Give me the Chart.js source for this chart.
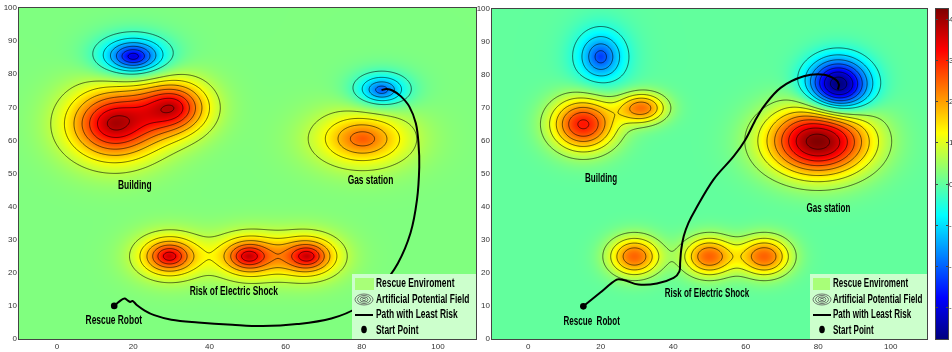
<!DOCTYPE html>
<html><head><meta charset="utf-8">
<script src="https://cdn.jsdelivr.net/npm/chart.js@4/dist/chart.umd.min.js"></script>
<style>
html,body{margin:0;padding:0;background:#fff;overflow:hidden;width:952px;height:352px}
#c1{position:absolute;left:0;top:0}
#c2{position:absolute;left:477px;top:0}
</style>
</head><body>
<canvas id="c1" width="480" height="352"></canvas>
<canvas id="c2" width="475" height="352"></canvas>
<script>
// ---------- DATA ----------
const xTickVals = [0, 20, 40, 60, 80, 100];
const yTickVals = [0, 10, 20, 30, 40, 50, 60, 70, 80, 90, 100];
const cbTickVals = [-3, -2, -1, 0, 1, 2, 3, 4];
const contourLevels = [-4, -3.5, -3, -2.5, -2, -1.5, -1, -0.5, 0.5, 1, 1.5, 2, 2.5, 3, 3.5, 4];
const legendLabels = ['Rescue Enviroment', 'Artificial Potential Field', 'Path with Least Risk', 'Start Point'];

// Left panel: risk sources (centre, peak value, spread, profile exponent)
const leftSrcX  = [20, 15, 30.5, 85.2, 80.2, 29.5, 50.3, 65.7];
const leftSrcY  = [85.3, 65, 70, 75.2, 60.5, 25, 25, 25];
const leftSrcA  = [-3.4, 3.55, 3.0, -2.4, 2.3, 3.35, 3.35, 3.35];
const leftSrcSx = [4.6, 7.8, 6.0, 3.8, 7.1, 4.3, 4.3, 4.3];
const leftSrcSy = [3.1, 7.0, 5.3, 2.7, 4.8, 3.27, 3.27, 3.27];
const leftSrcP  = [1.5, 1.8, 1.8, 1.5, 1.6, 1.5, 1.5, 1.5];
const leftClim = [-4, 4];
const leftPathX = [15.0, 16.3, 17.7, 18.6, 19.2, 19.8, 21.0, 23.0, 25.5, 30.0, 37.0, 46.0, 54.0, 63.0, 72.0, 79.0, 85.0, 89.5, 92.8, 94.5, 95.1, 94.9, 94.2, 92.5, 90.3, 88.2, 86.5, 85.2];
const leftPathY = [10.0, 11.3, 12.2, 11.6, 11.2, 11.5, 10.2, 8.6, 7.2, 5.8, 5.0, 4.3, 3.9, 4.5, 6.2, 9.6, 15.8, 22.9, 32.0, 42.0, 52.0, 59.2, 65.2, 70.2, 73.3, 75.0, 75.5, 75.2];
const leftStart = [15.0, 10.0];
const leftLabelText = ['Building', 'Gas station', 'Risk of Electric Shock', 'Rescue Robot'];
const leftLabelX = [20.4, 82.3, 46.4, 14.9];
const leftLabelY = [46.4, 47.8, 14.4, 5.6];

// Right panel
const rightSrcX  = [20, 15.2, 31.3, 85.5, 80, 29.3, 49.9, 65.2];
const rightSrcY  = [85.5, 65.1, 70, 76.8, 60, 25, 25, 25];
const rightSrcA  = [-2.3, 3.1, 2.3, -4.0, 4.25, 2.45, 2.45, 2.45];
const rightSrcSx = [3.7, 6.2, 4.6, 5.9, 9.8, 4.9, 4.9, 4.9];
const rightSrcSy = [4.37, 5.6, 3.2, 5.6, 7.25, 4.1, 4.1, 4.1];
const rightSrcP  = [1.5, 2, 2, 2, 2, 2, 2, 2];
const rightClim = [-3.77, 4.24];
const rightPathX = [15.2, 19.8, 24.4, 26.3, 30.4, 35.5, 40.1, 41.7, 41.9, 42.2, 42.9, 44.2, 46.1, 51.1, 56.7, 59.9, 62.5, 65.0, 69.6, 76.0, 81.6, 84.8, 85.7, 85.4];
const rightPathY = [9.9, 14.0, 18.0, 17.9, 16.5, 16.8, 18.5, 20.5, 23.1, 27.1, 31.2, 35.2, 39.2, 48.3, 55.4, 60.4, 66.0, 70.5, 76.1, 79.6, 80.1, 78.6, 77.1, 75.6];
const rightStart = [15.2, 9.9];
const rightLabelText = ['Building', 'Gas station', 'Risk of Electric Shock', 'Rescue  Robot'];
const rightLabelX = [20.1, 82.8, 49.3, 17.5];
const rightLabelY = [48.6, 39.5, 13.8, 5.1];

// ---------- HELPERS ----------
const TICK_FONT = "'Liberation Sans Narrow', 'Liberation Sans', Arial, sans-serif";
const clamp01 = v => Math.max(0, Math.min(1, v));
function jet(t) {
  t = clamp01(t);
  return [clamp01(Math.min(4*t-1.5, -4*t+4.5)), clamp01(Math.min(4*t-0.5, -4*t+3.5)), clamp01(Math.min(4*t+0.5, -4*t+2.5))];
}
function makeField(sx, sy, a, wx, wy, p) {
  return (x, y) => {
    let s = 0;
    for (let k = 0; k < sx.length; k++) {
      const dx = (x - sx[k]) / wx[k], dy = (y - sy[k]) / wy[k];
      s += a[k] * Math.exp(-0.5 * Math.pow(dx*dx + dy*dy, p[k] / 2));
    }
    return s;
  };
}
function drawText(ctx, txt, x, y, size, squeeze, align) {
  ctx.save();
  ctx.font = 'bold ' + size + "px 'Liberation Sans', Arial, sans-serif";
  ctx.textAlign = align || 'center';
  ctx.textBaseline = 'middle';
  ctx.fillStyle = '#000';
  ctx.translate(x, y);
  ctx.scale(squeeze, 1);
  ctx.fillText(txt, 0, 0);
  ctx.restore();
}

function fieldPlugin(cfg) {
  return {
    id: 'field',
    beforeDatasetsDraw(chart) {
      const {ctx, chartArea: a, scales: {x, y}} = chart;
      const L = Math.round(a.left), T = Math.round(a.top);
      const W = Math.round(a.right) - L, H = Math.round(a.bottom) - T;
      const img = ctx.createImageData(W, H);
      const xs = [], ys = [];
      for (let i = 0; i < W; i++) xs.push(x.getValueForPixel(L + i + 0.5));
      for (let j = 0; j < H; j++) ys.push(y.getValueForPixel(T + j + 0.5));
      const [c0, c1] = cfg.clim;
      for (let j = 0; j < H; j++) {
        for (let i = 0; i < W; i++) {
          const v = cfg.f(xs[i], ys[j]);
          const c = jet((v - c0) / (c1 - c0));
          const p = (j * W + i) * 4;
          img.data[p] = Math.round(c[0]*255); img.data[p+1] = Math.round(c[1]*255);
          img.data[p+2] = Math.round(c[2]*255); img.data[p+3] = 255;
        }
      }
      ctx.putImageData(img, L, T);
      // contours (marching squares in data space)
      const step = 0.25, gx0 = x.min, gy0 = y.min;
      const nx = Math.round((x.max - x.min) / step) + 1, ny = Math.round((y.max - y.min) / step) + 1;
      const g = new Float64Array(nx * ny);
      for (let j = 0; j < ny; j++) for (let i = 0; i < nx; i++) g[j*nx+i] = cfg.f(gx0 + i*step, gy0 + j*step);
      ctx.save();
      ctx.beginPath();
      ctx.rect(a.left, a.top, a.right - a.left, a.bottom - a.top);
      ctx.clip();
      ctx.beginPath();
      const P = (gi, gj) => [x.getPixelForValue(gx0 + gi*step), y.getPixelForValue(gy0 + gj*step)];
      for (const lev of contourLevels) {
        for (let j = 0; j < ny - 1; j++) {
          for (let i = 0; i < nx - 1; i++) {
            const va = g[j*nx+i] - lev, vb = g[j*nx+i+1] - lev, vc = g[(j+1)*nx+i+1] - lev, vd = g[(j+1)*nx+i] - lev;
            const sa = va > 0, sb = vb > 0, sc = vc > 0, sd = vd > 0;
            if (sa === sb && sb === sc && sc === sd) continue;
            const pts = [];
            if (sa !== sb) pts.push(P(i + va/(va-vb), j));
            if (sb !== sc) pts.push(P(i + 1, j + vb/(vb-vc)));
            if (sc !== sd) pts.push(P(i + 1 - vc/(vc-vd), j + 1));
            if (sd !== sa) pts.push(P(i, j + 1 - vd/(vd-va)));
            for (let k = 0; k + 1 < pts.length; k += 2) {
              ctx.moveTo(pts[k][0], pts[k][1]);
              ctx.lineTo(pts[k+1][0], pts[k+1][1]);
            }
          }
        }
      }
      ctx.strokeStyle = 'rgba(0,0,0,0.85)';
      ctx.lineWidth = 0.7;
      ctx.stroke();
      ctx.restore();
      // frame
      ctx.save();
      ctx.strokeStyle = '#444';
      ctx.lineWidth = 1;
      ctx.strokeRect(a.left - 0.5, a.top - 0.5, a.right - a.left + 1, a.bottom - a.top + 1);
      ctx.restore();
    },
    afterDatasetsDraw(chart) {
      const {ctx, scales: {x, y}} = chart;
      cfg.labelText.forEach((t, k) => {
        drawText(ctx, t, x.getPixelForValue(cfg.labelX[k]), y.getPixelForValue(cfg.labelY[k]), 12, cfg.squeeze);
      });
    },
    afterDraw(chart) {
      const {ctx, chartArea: a} = chart;
      const bw = cfg.legendW, bh = 65;
      const bx = a.right - bw, by = a.bottom - bh;
      ctx.save();
      ctx.fillStyle = '#ccffcc';
      ctx.fillRect(bx, by, bw, bh);
      const rows = [10, 25.5, 41, 56.5];
      const ix = bx + 12;
      ctx.fillStyle = '#a8ff78';
      ctx.fillRect(bx + 3, by + rows[0] - 6, cfg.swW, 12);
      ctx.strokeStyle = '#555';
      ctx.lineWidth = 0.8;
      [[9, 5.5], [6.5, 4], [4, 2.5], [1.8, 1.1]].forEach(([rx, ry]) => {
        ctx.beginPath(); ctx.ellipse(ix, by + rows[1], rx, ry, 0, 0, Math.PI*2); ctx.stroke();
      });
      ctx.strokeStyle = '#000'; ctx.lineWidth = 2;
      ctx.beginPath(); ctx.moveTo(bx + 3, by + rows[2]); ctx.lineTo(bx + 21, by + rows[2]); ctx.stroke();
      ctx.fillStyle = '#000';
      ctx.beginPath(); ctx.ellipse(ix, by + rows[3] - 1, 2.8, 3.8, 0, 0, Math.PI*2); ctx.fill();
      ctx.restore();
      legendLabels.forEach((t, k) => drawText(ctx, t, bx + cfg.textOff, by + rows[k], 12, cfg.squeeze, 'left'));
      if (cfg.colorbar) {
        const cb = chart.scales.cb;
        const x0 = a.right + 9, w = 12;
        const top = Math.round(cb.top), bot = Math.round(cb.bottom);
        for (let py = top; py < bot; py++) {
          const v = cb.getValueForPixel(py + 0.5);
          const c = jet((v - cfg.clim[0]) / (cfg.clim[1] - cfg.clim[0]));
          ctx.fillStyle = 'rgb(' + Math.round(c[0]*255) + ',' + Math.round(c[1]*255) + ',' + Math.round(c[2]*255) + ')';
          ctx.fillRect(x0, py, w, 1);
        }
        ctx.save();
        ctx.strokeStyle = '#444'; ctx.lineWidth = 1;
        ctx.strokeRect(x0 - 0.5, top - 0.5, w + 1, bot - top + 1);
        ctx.font = "8px " + TICK_FONT;
        ctx.fillStyle = '#333';
        ctx.textBaseline = 'middle';
        ctx.textAlign = 'left';
        cbTickVals.forEach(v => {
          const py = Math.round(cb.getPixelForValue(v)) + 0.5;
          ctx.beginPath();
          ctx.moveTo(x0, py); ctx.lineTo(x0 + 2, py);
          ctx.moveTo(x0 + w - 2, py); ctx.lineTo(x0 + w, py);
          ctx.stroke();
          ctx.fillText(String(v), x0 + w + 1, py);
        });
        ctx.restore();
      }
    }
  };
}

function makeChart(id, cfg) {
  return new Chart(document.getElementById(id), {
    type: 'scatter',
    data: {
      datasets: [
        {data: cfg.pathX.map((v, i) => ({x: v, y: cfg.pathY[i]})), showLine: true, borderColor: '#000',
         borderWidth: 2, pointRadius: 0, tension: 0.35, fill: false},
        {data: [{x: cfg.start[0], y: cfg.start[1]}], showLine: false, pointRadius: 3.3,
         pointBackgroundColor: '#000', pointBorderColor: '#000', pointBorderWidth: 0}
      ]
    },
    options: {
      responsive: false, animation: false, devicePixelRatio: 1, events: [],
      layout: {padding: cfg.padding},
      plugins: {legend: {display: false}, tooltip: {enabled: false}},
      scales: {
        x: {type: 'linear', min: -10, max: 110,
            afterBuildTicks: s => { s.ticks = xTickVals.map(v => ({value: v})); },
            afterFit: s => { s.height = cfg.xh; },
            grid: {display: false, drawTicks: false}, border: {display: false},
            ticks: {padding: 3, color: '#333', font: {family: TICK_FONT, size: 8}, maxRotation: 0, autoSkip: false}},
        y: {type: 'linear', min: 0, max: 100,
            afterBuildTicks: s => { s.ticks = yTickVals.map(v => ({value: v})); },
            afterFit: s => { s.width = cfg.yw; },
            grid: {display: false, drawTicks: false}, border: {display: false},
            ticks: {padding: 2, color: '#333', font: {family: TICK_FONT, size: 8}, autoSkip: false}},
        cb: {type: 'linear', display: false, position: 'right', min: cfg.clim[0], max: cfg.clim[1]}
      }
    },
    plugins: [fieldPlugin(cfg)]
  });
}

makeChart('c1', {
  f: makeField(leftSrcX, leftSrcY, leftSrcA, leftSrcSx, leftSrcSy, leftSrcP), clim: leftClim,
  pathX: leftPathX, pathY: leftPathY, start: leftStart,
  labelText: leftLabelText, labelX: leftLabelX, labelY: leftLabelY,
  padding: {left: 0, top: 8, right: 1, bottom: 0}, xh: 13, yw: 19,
  squeeze: 0.7, legendW: 124, swW: 19, textOff: 24, colorbar: false
});
makeChart('c2', {
  f: makeField(rightSrcX, rightSrcY, rightSrcA, rightSrcSx, rightSrcSy, rightSrcP), clim: rightClim,
  pathX: rightPathX, pathY: rightPathY, start: rightStart,
  labelText: rightLabelText, labelX: rightLabelX, labelY: rightLabelY,
  padding: {left: 0, top: 9, right: 25, bottom: 0}, xh: 13, yw: 15,
  squeeze: 0.67, legendW: 117, swW: 17, textOff: 23, colorbar: true
});
</script>
</body></html>
